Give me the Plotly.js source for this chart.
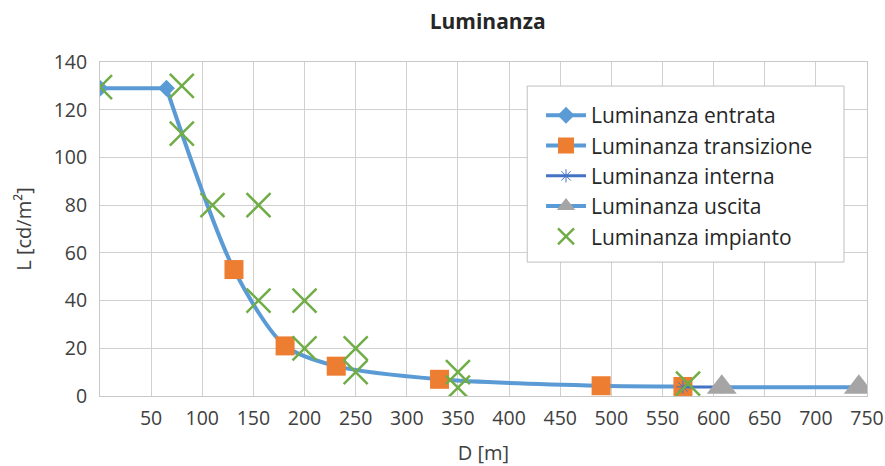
<!DOCTYPE html>
<html>
<head>
<meta charset="utf-8">
<script src="https://cdn.plot.ly/plotly-3.0.1.min.js"></script>
<style>
html,body{margin:0;padding:0;background:#fff;}
#chart{width:885px;height:466px;}
</style>
</head>
<body>
<div id="chart"></div>
<script>
// Data
const entrataX = [0, 65];
const entrataY = [129, 129];
const transizioneX = [65, 131, 181, 231, 332, 490, 570];
const transizioneY = [129, 53, 21, 12.5, 7, 4.3, 4.0];
const internaX = [570, 608];
const internaY = [3.8, 3.8];
const uscitaX = [608, 742];
const uscitaY = [3.7, 3.7];
const impiantoX = [0, 80, 80, 110, 155, 155, 200, 200, 250, 250, 350, 350, 575];
const impiantoY = [129.5, 130, 110, 80, 80, 40, 40, 20, 20, 10, 10, 3.5, 5.2];
const xTicks = [50, 100, 150, 200, 250, 300, 350, 400, 450, 500, 550, 600, 650, 700, 750];
const yTicks = [0, 20, 40, 60, 80, 100, 120, 140];
const seriesNames = ['Luminanza entrata', 'Luminanza transizione', 'Luminanza interna', 'Luminanza uscita', 'Luminanza impianto'];

const lightBlue = '#5B9BD5';
const font = 'Open Sans, Noto Sans, sans-serif';

// first transition point is the shared knee: hide its marker
const transSizes = transizioneX.map((v, i) => i === 0 ? 0 : 19);

const traces = [
  {x: entrataX, y: entrataY, name: seriesNames[0], mode: 'lines+markers',
   line: {color: lightBlue, width: 4},
   marker: {symbol: 'diamond', size: 13, color: lightBlue, opacity: 1}},
  {x: transizioneX, y: transizioneY, name: seriesNames[1], mode: 'lines+markers',
   line: {color: lightBlue, width: 4, shape: 'spline', smoothing: 0.8},
   marker: {symbol: 'square', size: transSizes, color: '#ED7D31', opacity: 1, line: {width: 0}}},
  {x: internaX, y: internaY, name: seriesNames[2], mode: 'lines+markers',
   line: {color: '#4472C4', width: 3},
   marker: {symbol: 'asterisk-open', size: 11, color: '#4472C4', line: {color: '#6F93D8', width: 1}}},
  {x: uscitaX, y: uscitaY, name: seriesNames[3], mode: 'lines+markers',
   line: {color: lightBlue, width: 4},
   marker: {symbol: 'triangle-up', size: 26, color: '#A5A5A5', opacity: 1}},
  {x: impiantoX, y: impiantoY, name: seriesNames[4], mode: 'markers',
   marker: {symbol: 'x-thin-open', size: 24, color: '#70AD47', line: {color: '#70AD47', width: 2.5}}}
];

const layout = {
  width: 885, height: 466,
  margin: {l: 100, r: 18, t: 62, b: 70},
  paper_bgcolor: '#fff', plot_bgcolor: '#fff',
  font: {family: font, color: '#404040', size: 19.5},
  title: {text: '<b>Luminanza</b>', x: 0.551, xanchor: 'center', y: 0.953, yanchor: 'middle',
          font: {family: font, size: 21, color: '#262626'}},
  showlegend: true,
  legend: {x: 0.575, y: 0.901, xanchor: 'left', yanchor: 'top',
           bgcolor: 'rgba(0,0,0,0)', borderwidth: 0,
           font: {family: font, size: 21, color: '#262626'},
           tracegroupgap: 0, itemwidth: 40},
  shapes: [{type: 'rect', xref: 'paper', yref: 'paper', x0: 0.557, x1: 0.970, y0: 0.401, y1: 0.928,
            fillcolor: '#fff', line: {color: '#BFBFBF', width: 1}, layer: 'above'}],
  xaxis: {range: [0, 750], tickvals: xTicks, ticktext: xTicks.map(String),
          showgrid: true, gridcolor: '#D0D0D0', gridwidth: 1,
          zeroline: false, showline: true, linecolor: '#C8C8C8', linewidth: 1, mirror: true,
          ticks: '', ticklabelstandoff: 5,
          tickfont: {size: 19.5, color: '#404040'},
          title: {text: 'D [m]', font: {size: 20, color: '#404040'}, standoff: 19}},
  yaxis: {range: [0, 140], tickvals: yTicks, ticktext: yTicks.map(String),
          showgrid: true, gridcolor: '#D0D0D0', gridwidth: 1,
          zeroline: false, showline: true, linecolor: '#C8C8C8', linewidth: 1, mirror: true,
          ticks: '', ticklabelstandoff: 8,
          tickfont: {size: 19.5, color: '#404040'},
          title: {text: 'L [cd/m²]', font: {size: 20, color: '#404040'}, standoff: 16}}
};

Plotly.newPlot('chart', traces, layout, {displayModeBar: false, staticPlot: true});
</script>
</body>
</html>
